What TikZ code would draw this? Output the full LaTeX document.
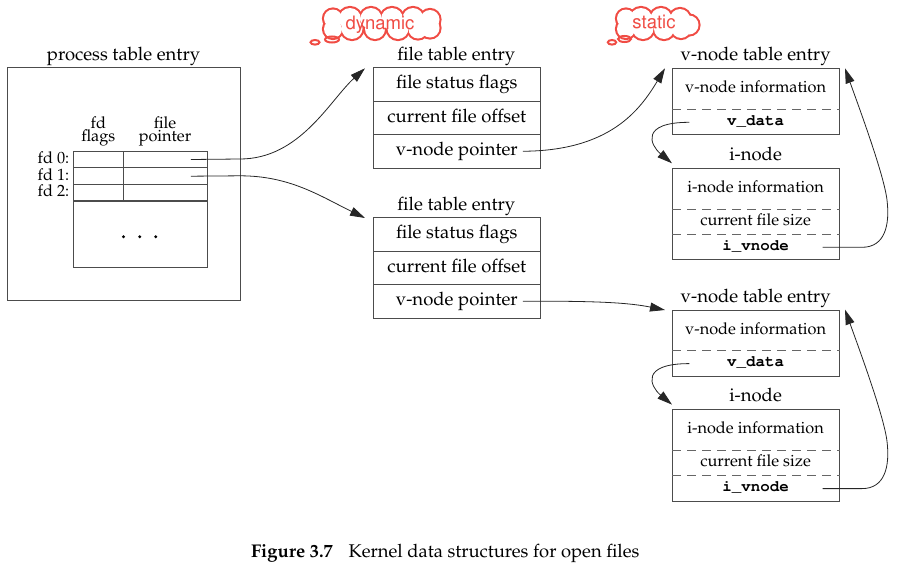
\documentclass[tikz,border=0pt]{standalone}
\usepackage[T1]{fontenc}
\usepackage{mathpazo}
\usetikzlibrary{arrows.meta,calc}

\definecolor{edge}{gray}{0.3}
\definecolor{dashgray}{gray}{0.4}
\definecolor{wire}{gray}{0.15}
\definecolor{thought}{RGB}{240,76,68}

\tikzset{
  frame/.style={draw=edge, line width=0.9pt, anchor=north west, inner sep=0pt},
  ttl/.style={inner sep=0pt, font=\fontsize{18.5}{20}\selectfont, text height=13.3pt, text depth=4.6pt},
  mid/.style={inner sep=0pt, font=\fontsize{16.3}{18}\selectfont, text height=11.7pt, text depth=4.1pt},
  colhead/.style={inner sep=0pt, align=center, font=\fontsize{16.3}{12.6}\selectfont, text depth=0pt, anchor=south},
  code/.style={inner sep=0pt, font=\fontfamily{pcr}\fontseries{b}\fontsize{15.8}{18}\selectfont, text height=11.4pt, text depth=4pt},
  divider/.style={draw=dashgray, line width=0.9pt, dash pattern=on 9pt off 6pt},
  wirearrow/.style={draw=wire, line width=0.8pt, -{Triangle[length=15pt,width=9pt]}},
  puff/.style={draw=thought, line width=2pt},
  thinktext/.style={inner sep=0pt, text=thought, font=\fontfamily{phv}\fontsize{18.5}{20}\selectfont, text height=13.9pt, text depth=4.3pt},
}

% a thought cloud as the outline of a union of circles:
% stroke every circle twice as wide, then blank out the interiors
\newcommand\thoughtcloud[1]{%
  \foreach \cx/\cy/\cr in {#1} \draw[thought, line width=4.2pt] (\cx,\cy) circle (\cr pt);
  \foreach \cx/\cy/\cr in {#1} \fill[white] (\cx,\cy) circle (\cr pt);}

% one v-node table entry together with its i-node
\newcommand\vgroup[2]{%
  \begin{scope}[shift={(0,#1)}]
    \node[ttl] (vt#2) at (755.6,56.5) {v-node table entry};
    \node[frame, minimum width=166.7pt, minimum height=66pt] (vn#2) at (672.3,68.3) {};
    \draw[divider] ($(vn#2.north west)+(0,41)$) -- ($(vn#2.north east)+(0,41)$);
    \node[mid] (vi#2) at (755.6,89) {v-node information};
    \node[code] (vd#2) at (755.6,121.8) {v\_data};
    \node[ttl] (it#2) at (755.6,156.2) {i-node};
    \node[frame, minimum width=166.7pt, minimum height=91.6pt] (in#2) at (672.3,167.7) {};
    \draw[divider] ($(in#2.north west)+(0,41.6)$) -- ($(in#2.north east)+(0,41.6)$);
    \draw[divider] ($(in#2.north west)+(0,66.6)$) -- ($(in#2.north east)+(0,66.6)$);
    \node[mid] (ii#2) at (755.6,188.3) {i-node information};
    \node[mid] (is#2) at (755.6,221.8) {current file size};
    \node[code] (iv#2) at (755.6,246.8) {i\_vnode};
    % v_data -> i-node, i_vnode -> v-node
    \coordinate (vds#2) at (689.3,122.3);
    \coordinate (vdt#2) at (672,163.3);
    \coordinate (ivs#2) at (822.7,247.3);
    \coordinate (ivt#2) at (845,68.3);
    \draw[wirearrow] (vds#2) .. controls (640,122.3) and (650,145) .. (vdt#2);
    \draw[wirearrow] (ivs#2) -- (862,247.3) .. controls (885,247.3) and (890,225) .. (887,200)
                     .. controls (884,175) and (860,110) .. (ivt#2);
  \end{scope}}

% one file table entry
\newcommand\fgroup[2]{%
  \begin{scope}[shift={(0,#1)}]
    \node[ttl] (ft#2) at (456.3,56.5) {file table entry};
    \node[frame, ttl, anchor=north west, minimum width=167.3pt, minimum height=33.4pt] (fs#2) at (372.7,67.3) {file status flags};
    \node[frame, ttl, anchor=north west, minimum width=167.3pt, minimum height=33.4pt] (fo#2) at (372.7,100.7) {current file offset};
    \node[frame, ttl, anchor=north west, minimum width=167.3pt, minimum height=33.4pt] (fv#2) at (372.7,134.1) {v-node pointer};
    \coordinate (vps#2) at ($(fv#2.east)+(-18,0)$);
  \end{scope}}

\begin{document}
\begin{tikzpicture}[x=1pt,y=-1pt]
  \path[use as bounding box] (0,0) rectangle (905,573);

  % thought clouds
  \thoughtcloud{333/18.5/9, 333/29/9, 350/19/11, 371/18.5/10.5, 392/19/11, 413/18.5/10.5,
                430/19.5/9.5, 430/28/9.5, 352/28.5/10.5, 375/29/10, 398/28.5/10.5, 418/29/9.5}
  \node[thinktext] (dyntext) at (380,24.5) {dynamic};
  \draw[puff] (315,42.3) ellipse (4.5pt and 2.3pt);
  \draw[puff] (332,39.5) ellipse (7pt and 3pt);

  \thoughtcloud{626/18.5/9, 626/29/9, 641/19/11, 661/18.5/10.5, 680/19/10,
                689/25/9.5, 643/28.5/10.5, 664/29/10, 681/28.5/9.5}
  \node[thinktext] (stattext) at (654,23.5) {static};
  \draw[puff] (612,42.3) ellipse (4.2pt and 2.3pt);
  \draw[puff] (624.5,39) ellipse (6.5pt and 3pt);

  % process table entry
  \node[ttl] (proct) at (123.5,56.5) {process table entry};
  \node[frame, minimum width=233pt, minimum height=233pt] (proc) at (7,67.3) {};
  \node[colhead] (hflags) at (98.3,141.2) {fd\\flags};
  \node[colhead] (hptr) at (165,141.2) {file\\pointer};
  \foreach \r/\y in {0/150.7,1/167.4,2/184.1} {
    \node[frame, minimum width=50pt, minimum height=16.7pt] (fl\r) at (73.3,\y) {};
    \node[frame, minimum width=83.4pt, minimum height=16.7pt] (fp\r) at (123.3,\y) {};
    \node[mid, anchor=east] (lab\r) at ($(fl\r.west)+(-3.8,0)$) {fd \r:};
  }
  \node[frame, minimum width=133.4pt, minimum height=66.6pt] (rest) at (73.3,200.8) {};
  \draw[edge, line width=1.4pt] (rest.north west) -- (rest.north east);
  \foreach \x in {123.5,139.7,155.7} \fill (\x,236.7) circle (1.6pt);

  % file table entries
  \fgroup{0}{1}
  \fgroup{150}{2}

  % v-node table entries with i-nodes
  \vgroup{0}{1}
  \vgroup{241.3}{2}

  % descriptors -> file table entries
  \coordinate (p0) at ($(fp0.east)+(-16.7,0)$);
  \coordinate (p1) at ($(fp1.east)+(-16.7,0)$);
  \coordinate (ftip1) at (365,68.3);
  \coordinate (ftip2) at (365,218);
  \draw[wirearrow] (p0) -- (240,159) .. controls (300,159) and (330,100) .. (ftip1);
  \draw[wirearrow] (p1) -- (240,175.8) .. controls (290,175.8) and (320,196) .. (ftip2);

  % file table entries -> v-node table entries
  \coordinate (vtip1) at (665,68.3);
  \coordinate (vtip2) at (665,310);
  \draw[wirearrow] (vps1) .. controls (610,150.8) and (640,110) .. (vtip1);
  \draw[wirearrow] (vps2) .. controls (600,300.8) and (630,303) .. (vtip2);

  % caption
  \node[ttl, font=\bfseries\fontsize{18.4}{20}\selectfont, anchor=east] (figno) at (333,553) {Figure 3.7};
  \node[ttl, font=\fontsize{18.4}{20}\selectfont, anchor=west] (captext) at (348.3,553) {Kernel data structures for open files};
\end{tikzpicture}
\end{document}
